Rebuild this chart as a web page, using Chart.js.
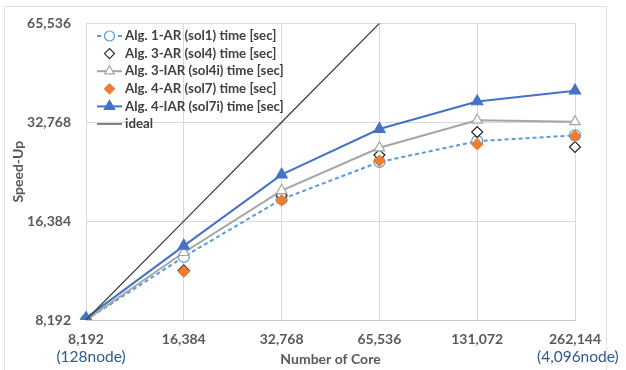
<!DOCTYPE html>
<html>
<head>
<meta charset="utf-8">
<script src="https://cdn.jsdelivr.net/npm/chart.js@4.4.1/dist/chart.umd.min.js"></script>
<style>
  body { margin: 0; background: #fff; }
  canvas { display: block; }
</style>
</head>
<body>
<canvas id="myChart" width="626" height="370"></canvas>
<script>
// categories (number of cores)
var cores = ['8,192', '16,384', '32,768', '65,536', '131,072', '262,144'];
var yTicks = [8192, 16384, 32768, 65536];

// speed-up values
var sol1 = [8192, 12760, 19100, 24800, 28700, 29900];
var sol4 = [8192, 11600, 19600, 26050, 30600, 27550];
var sol4i = [8192, 13150, 20300, 27400, 33250, 32900];
var sol7 = [8192, 11500, 18950, 25000, 28100, 29750];
var sol7i = [8300, 13780, 22700, 31250, 37900, 40900];
var ideal = [8192, 16384, 32768, 65536, 131072, 262144];

var nodeLabels = ['(128node)', '(4,096node)'];

var txtColor = '#595959';
var gridColor = '#D9D9D9';
var fontFam = 'Lato, "Liberation Sans", sans-serif';

var ctx = document.getElementById('myChart').getContext('2d');

// light frame round the whole chart + the node labels under the x axis
var framePlugin = {
    id: 'frame',
    beforeDraw: function (chart) {
        var c = chart.ctx;
        c.save();
        c.strokeStyle = '#E3E3E3';
        c.lineWidth = 1;
        c.strokeRect(4.5, 6.5, 602, 400);
        c.restore();
    },
    afterDraw: function (chart) {
        var c = chart.ctx;
        var x = chart.scales.x;
        c.save();
        c.fillStyle = '#2E5A8C';
        c.font = '15.5px ' + fontFam;
        c.textBaseline = 'middle';
        c.textAlign = 'center';
        c.fillText(nodeLabels[0], x.getPixelForValue(0) + 5, 357);
        c.textAlign = 'left';
        c.fillText(nodeLabels[1], 537, 357);
        c.restore();
    }
};

// excel style legend inside the plot: line + marker + text
var legendPlugin = {
    id: 'insideLegend',
    afterDatasetsDraw: function (chart) {
        var c = chart.ctx;
        var left = chart.chartArea.left + 11;
        var top = 36;
        chart.data.datasets.forEach(function (ds, i) {
            var y = top + i * 17.6;
            c.save();
            if (ds.showLine !== false) {
                c.strokeStyle = ds.borderColor;
                c.lineWidth = ds.borderWidth;
                c.setLineDash(ds.borderDash || []);
                c.beginPath();
                c.moveTo(left, y);
                c.lineTo(left + 25, y);
                c.stroke();
                c.setLineDash([]);
            }
            if (ds.pointRadius > 0) {
                c.fillStyle = ds.pointBackgroundColor;
                c.strokeStyle = ds.pointBorderColor;
                c.lineWidth = ds.pointBorderWidth;
                Chart.helpers.drawPoint(c, {
                    pointStyle: ds.pointStyle,
                    radius: ds.pointRadius - 0.5,
                    rotation: 0,
                    borderWidth: ds.pointBorderWidth
                }, left + 12.5, y);
            }
            c.fillStyle = '#404040';
            c.font = 'bold 13.3px ' + fontFam;
            c.textAlign = 'left';
            c.textBaseline = 'middle';
            c.fillText(ds.label, left + 28, y);
            c.restore();
        });
    }
};

function series(label, data, color, style, fill, line, dash, order) {
    return {
        label: label,
        data: data,
        borderColor: color,
        backgroundColor: color,
        borderWidth: line ? 2 : 0,
        borderDash: dash,
        showLine: line,
        pointStyle: style,
        pointRadius: style ? 5.5 : 0,
        pointHoverRadius: style ? 5.5 : 0,
        pointBackgroundColor: fill ? color : '#fff',
        pointBorderColor: color,
        pointBorderWidth: 1.2,
        order: order,
        tension: 0
    };
}

var datasets = [
    series('Alg. 1-AR (sol1) time [sec]', sol1, '#5B9BD5', 'circle', false, true, [4, 3], 6),
    series('Alg. 3-AR (sol4) time [sec]', sol4, '#262626', 'rectRot', false, false, [], 5),
    series('Alg. 3-IAR (sol4i) time [sec]', sol4i, '#A5A5A5', 'triangle', false, true, [], 4),
    series('Alg. 4-AR (sol7) time [sec]', sol7, '#ED7D31', 'rectRot', true, false, [], 3),
    series('Alg. 4-IAR (sol7i) time [sec]', sol7i, '#4472C4', 'triangle', true, true, [], 2),
    series('ideal', ideal, '#404040', false, false, true, [], 1)
];
datasets[5].borderWidth = 1.3;
datasets[2].pointRadius = 6;
datasets[4].pointRadius = 6.5;

var myChart = new Chart(ctx, {
    type: 'line',
    data: { labels: cores, datasets: datasets },
    options: {
        responsive: false,
        animation: false,
        devicePixelRatio: 1,
        layout: { padding: { left: 0, top: 19, right: 51, bottom: 0 } },
        plugins: {
            legend: { display: false },
            tooltip: { enabled: false }
        },
        scales: {
            x: {
                type: 'category',
                offset: false,
                afterFit: function (s) { s.height = 50; },
                grid: { color: gridColor, drawTicks: false },
                border: { color: '#C8C8C8' },
                ticks: {
                    color: txtColor,
                    padding: 11,
                    maxRotation: 0,
                    autoSkip: false,
                    font: { family: fontFam, size: 14, weight: 'bold' }
                },
                title: {
                    display: true,
                    text: 'Number of Core',
                    color: txtColor,
                    padding: { top: 0, bottom: 2 },
                    font: { family: fontFam, size: 14, weight: 'bold' }
                }
            },
            y: {
                type: 'logarithmic',
                min: 8192,
                max: 65536,
                afterFit: function (s) { s.width = 86; },
                afterBuildTicks: function (s) {
                    s.ticks = yTicks.map(function (v) { return { value: v }; });
                },
                grid: { color: gridColor, drawTicks: false },
                border: { display: false },
                ticks: {
                    color: txtColor,
                    padding: 15,
                    font: { family: fontFam, size: 14, weight: 'bold' },
                    callback: function (v) { return Number(v).toLocaleString('en-US'); }
                },
                title: {
                    display: true,
                    text: 'Speed-Up',
                    color: txtColor,
                    padding: { top: 10, bottom: 0 },
                    font: { family: fontFam, size: 14, weight: 'bold' }
                }
            }
        }
    },
    plugins: [framePlugin, legendPlugin]
});
</script>
</body>
</html>
